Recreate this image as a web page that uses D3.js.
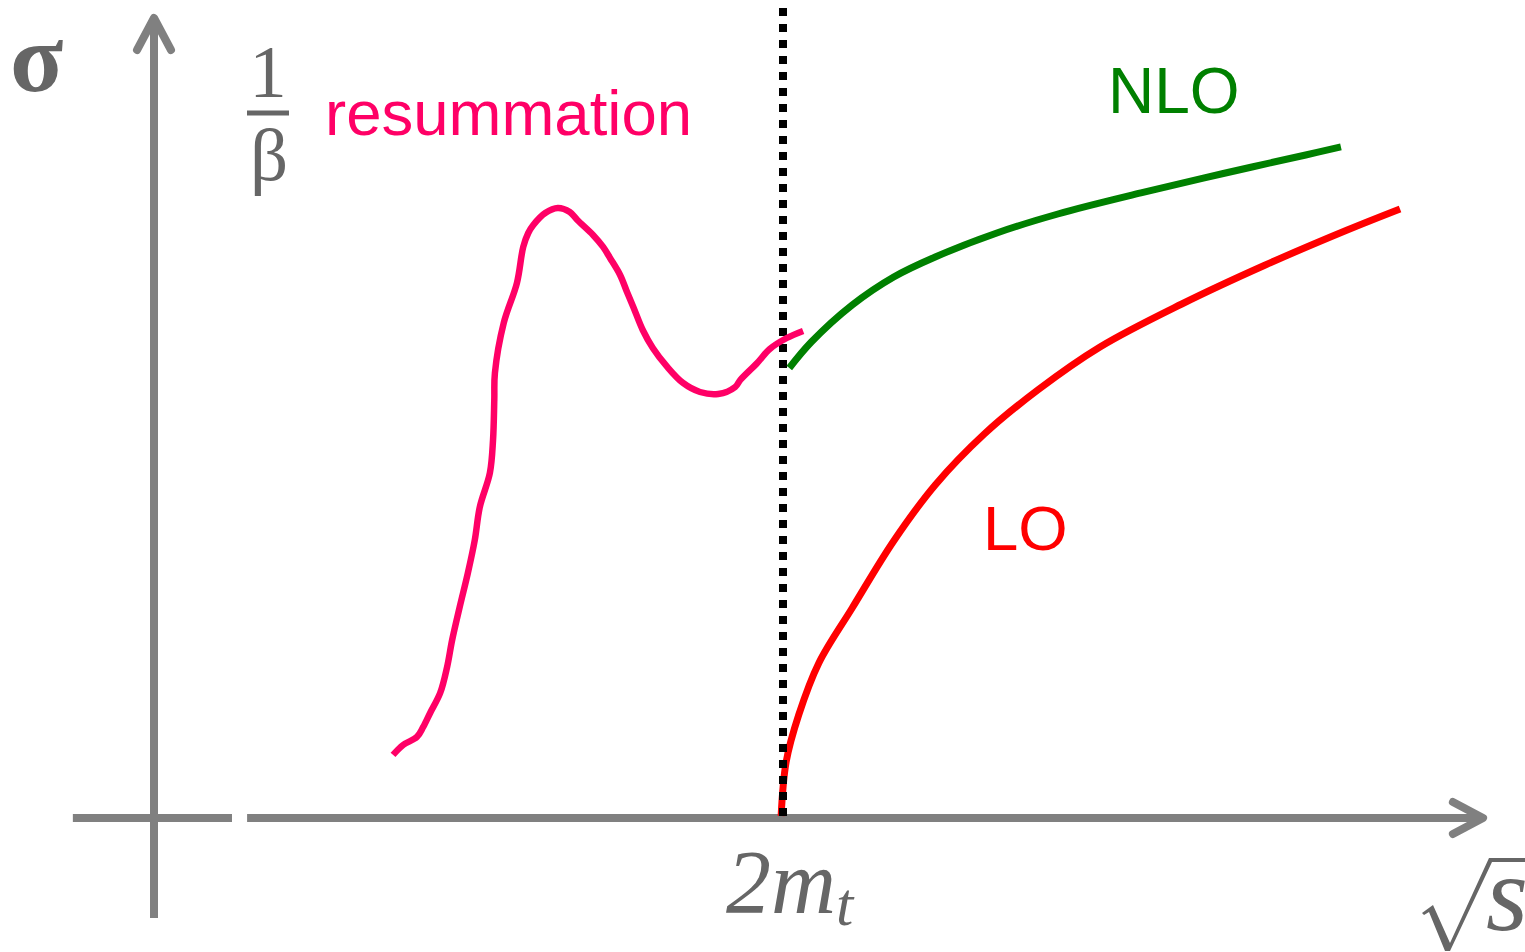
<!DOCTYPE html>
<html>
<head>
<meta charset="utf-8">
<script src="https://cdn.jsdelivr.net/npm/d3@7"></script>
<style>
  html, body { margin: 0; padding: 0; background: #fff; }
  svg { display: block; }
</style>
</head>
<body>
<svg id="chart" width="1525" height="952"></svg>
<script>
// Energy axis: sqrt(s) in units of the threshold 2m_t (threshold = 1)
// Cross-section axis: arbitrary units

// Resummed cross section below and around threshold
const resumX = [0.380, 0.396, 0.418, 0.428, 0.439, 0.455, 0.466, 0.474, 0.486, 0.499,
                0.510, 0.518, 0.534, 0.539, 0.541, 0.542, 0.556, 0.577, 0.587, 0.595,
                0.603, 0.622, 0.642, 0.661, 0.673, 0.698, 0.714, 0.725, 0.741, 0.752,
                0.762, 0.777, 0.793, 0.816, 0.841, 0.868, 0.897, 0.924, 0.932, 0.959,
                0.979, 1.006, 1.032];
const resumY = [0.788, 0.913, 1.013, 1.138, 1.313, 1.563, 1.888, 2.225, 2.638, 3.063,
                3.475, 3.888, 4.313, 4.725, 5.225, 5.563, 6.188, 6.688, 7.138, 7.313,
                7.413, 7.563, 7.625, 7.575, 7.475, 7.288, 7.138, 7.000, 6.788, 6.575,
                6.388, 6.100, 5.875, 5.638, 5.438, 5.325, 5.300, 5.388, 5.475, 5.688,
                5.863, 6.000, 6.088];

// NLO cross section above threshold
const nloX = [1.010, 1.045, 1.110, 1.176, 1.242, 1.340, 1.437, 1.569, 1.700, 1.831, 1.887];
const nloY = [5.625, 5.950, 6.413, 6.763, 7.013, 7.313, 7.550, 7.813, 8.056, 8.288, 8.388];

// LO cross section above threshold
const loX = [0.997, 1.005, 1.025, 1.057, 1.110, 1.176, 1.242, 1.320, 1.405, 1.504,
             1.634, 1.765, 1.897, 1.981];
const loY = [0.025, 0.700, 1.288, 1.938, 2.625, 3.463, 4.163, 4.800, 5.350, 5.888,
             6.425, 6.906, 7.350, 7.613];

// Threshold position
const threshold = 1.0;

// Labels
const curveLabels = ["resummation", "NLO", "LO"];
const thresholdLabel = ["2m", "t"];

const svg = d3.select("#chart");

const x = d3.scaleLinear().domain([0, 1]).range([154, 783]);
const y = d3.scaleLinear().domain([0, 10]).range([818, 18]);

const axisColor = "#808080";
const mathColor = "#666666";

const zip = (xs, ys) => xs.map((v, i) => [v, ys[i]]);
const line = d3.line()
  .x(d => x(d[0]))
  .y(d => y(d[1]))
  .curve(d3.curveCatmullRom.alpha(0.5));

// ---- axes ----
const axes = svg.append("g").attr("stroke", axisColor).attr("stroke-width", 8).attr("fill", "none");

// vertical axis
axes.append("line")
  .attr("x1", x(0)).attr("x2", x(0))
  .attr("y1", y(-1.25)).attr("y2", y(9.98));
axes.append("path")
  .attr("stroke-linecap", "round").attr("stroke-linejoin", "round")
  .attr("d", `M${x(0) - 17},${y(9.6)} L${x(0)},${y(10)} L${x(0) + 17},${y(9.6)}`);

// horizontal axis, broken near the origin
axes.append("line")
  .attr("x1", x(-0.129)).attr("x2", x(0.124))
  .attr("y1", y(0)).attr("y2", y(0));
axes.append("line")
  .attr("x1", x(0.148)).attr("x2", x(2.110))
  .attr("y1", y(0)).attr("y2", y(0));
axes.append("path")
  .attr("stroke-linecap", "round").attr("stroke-linejoin", "round")
  .attr("d", `M${x(2.065)},${y(0.2)} L${x(2.113)},${y(0)} L${x(2.065)},${y(-0.2)}`);

// ---- curves ----
svg.append("path")
  .attr("d", line(zip(loX, loY)))
  .attr("fill", "none").attr("stroke", "#ff0000").attr("stroke-width", 7);

// threshold marker
svg.append("line")
  .attr("x1", x(threshold)).attr("x2", x(threshold))
  .attr("y1", y(10.125)).attr("y2", y(0))
  .attr("stroke", "#000").attr("stroke-width", 8)
  .attr("stroke-dasharray", "8,8");

svg.append("path")
  .attr("d", line(zip(nloX, nloY)))
  .attr("fill", "none").attr("stroke", "#008000").attr("stroke-width", 7);

svg.append("path")
  .attr("d", line(zip(resumX, resumY)))
  .attr("fill", "none").attr("stroke", "#ff0066").attr("stroke-width", 6.5)
  .attr("stroke-linejoin", "round");

// ---- curve labels ----
const sans = "'Liberation Sans', Arial, sans-serif";
const serif = "'Liberation Serif', 'Times New Roman', serif";

svg.append("text").text(curveLabels[0])
  .attr("x", 325).attr("y", 135)
  .attr("font-family", sans).attr("font-size", 63.5).attr("fill", "#ff0066");
svg.append("text").text(curveLabels[1])
  .attr("x", 1108).attr("y", 113)
  .attr("font-family", sans).attr("font-size", 64).attr("fill", "#008000");
svg.append("text").text(curveLabels[2])
  .attr("x", 983).attr("y", 550)
  .attr("font-family", sans).attr("font-size", 63.5).attr("fill", "#ff0000");

// ---- axis titles and math labels ----
svg.append("text").text("σ")
  .attr("x", 10).attr("y", 91)
  .attr("font-family", serif).attr("font-weight", "bold")
  .attr("font-size", 98).attr("fill", mathColor);

// 1/β fraction
svg.append("text").text("1")
  .attr("x", 268).attr("y", 97).attr("text-anchor", "middle")
  .attr("font-family", serif).attr("font-size", 75).attr("fill", mathColor);
svg.append("line")
  .attr("x1", 247).attr("x2", 289).attr("y1", 113).attr("y2", 113)
  .attr("stroke", mathColor).attr("stroke-width", 5);
svg.append("text").text("β")
  .attr("x", 269).attr("y", 180).attr("text-anchor", "middle")
  .attr("font-family", serif).attr("font-size", 75).attr("fill", mathColor);

// 2m_t under the threshold
const thr = svg.append("text")
  .attr("x", x(threshold) - 57).attr("y", 913)
  .attr("font-family", serif).attr("font-style", "italic")
  .attr("font-size", 90).attr("fill", mathColor);
thr.append("tspan").text(thresholdLabel[0]);
thr.append("tspan").text(thresholdLabel[1]).attr("font-size", 62).attr("dy", 12);

// sqrt(s) at the end of the energy axis
svg.append("path")
  .attr("d", "M1422,913 L1433,905 L1450,943 L1489,858 L1525,858 L1525,862 L1492,862 L1450,951 L1445,951 L1429,912 L1424,915 Z")
  .attr("fill", mathColor);
svg.append("text").text("s")
  .attr("x", 1486).attr("y", 930)
  .attr("font-family", serif).attr("font-style", "italic")
  .attr("font-size", 108).attr("fill", mathColor);
</script>
</body>
</html>
